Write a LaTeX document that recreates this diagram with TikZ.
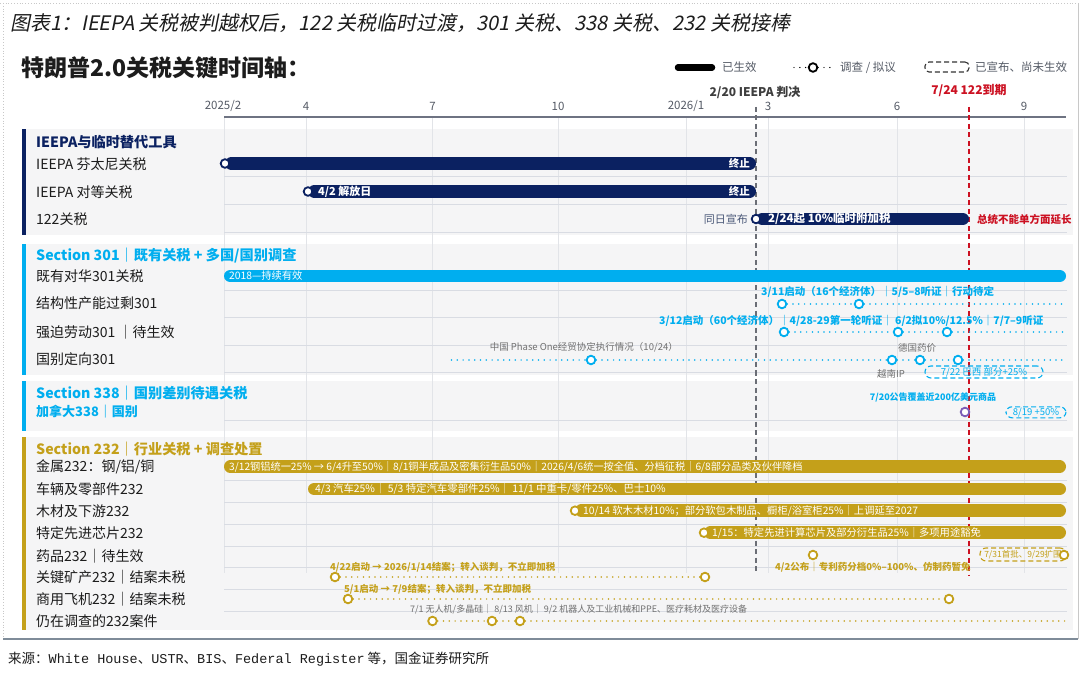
\documentclass[tikz,border=0pt]{standalone}
\usepackage{fontspec}
\setmainfont{Noto Sans CJK SC}
\newfontfamily\titlefont[FakeSlant=0.2]{Noto Sans CJK SC}
\newfontfamily\monofont{Liberation Mono}
\newcommand\fsz[1]{\fontsize{#1}{#1}\selectfont}
\definecolor{navy}{HTML}{0B2161}
\definecolor{cyanc}{HTML}{00AEEF}
\definecolor{goldc}{HTML}{C4A01A}
\definecolor{redc}{HTML}{CC1122}
\definecolor{panel}{HTML}{F5F5F6}
\definecolor{gridc}{HTML}{E2E4E8}
\definecolor{sepc}{HTML}{D9DCE3}
\definecolor{axisc}{HTML}{6E7382}
\definecolor{tickc}{HTML}{555B66}
\definecolor{greyt}{HTML}{707070}
\definecolor{purplec}{HTML}{7B5CB8}
\definecolor{slate}{HTML}{4A5878}
\definecolor{labelc}{HTML}{1C1C1C}
\definecolor{vdash}{HTML}{6B6E76}
\definecolor{framec}{HTML}{C8C8C8}
\definecolor{bottomc}{HTML}{7F8C99}
\begin{document}
\begin{tikzpicture}[x=1pt,y=-1pt,
  lab/.style={anchor=west,inner sep=0pt},
  rowlabel/.style={lab,font=\fsz{14},text=labelc},
  sechead/.style={lab,font=\fsz{14.2}\bfseries},
  bartext/.style={lab,text=white,font=\fsz{10.3}},
  barbold/.style={lab,text=white,font=\fsz{11.5}\bfseries},
  barline/.style={line width=12.6pt,line cap=round},
  mdot/.style={circle,draw=#1,fill=white,line width=1.8pt,minimum size=8.6pt,inner sep=0pt},
  dotline/.style={draw=#1,line width=1.7pt,line cap=round,dash pattern=on 0pt off 5.8pt},
  dashbox/.style={draw=#1,rounded corners=6pt,line width=1.1pt,dash pattern=on 5pt off 3pt,inner sep=0pt},
  ticklab/.style={font=\fsz{11.5},text=tickc,inner sep=0pt},
  note/.style={lab,font=\fsz{9.5}\bfseries},
  greynote/.style={font=\fsz{9.5},text=greyt,inner sep=0pt},
  legtext/.style={lab,font=\fsz{11.5},text=tickc},
]
\useasboundingbox (0,0) rectangle (1080,687);
\fill[white] (0,0) rectangle (1080,687);
% frame
\draw[framec,dotted,line width=0.8pt] (0,3) -- (1078,3);
\draw[framec,dotted,line width=0.8pt] (3,3) -- (3,639);
\draw[framec,line width=0.8pt] (1078,3) -- (1078,639);
\draw[bottomc,line width=1.6pt] (3,639) -- (1078,639);
% titles
\node[lab,font=\titlefont\fsz{20},text=labelc] (title) at (10,23) {图表1：IEEPA 关税被判越权后，122 关税临时过渡，301 关税、338 关税、232 关税接棒};
\node[lab,font=\fsz{23}\bfseries,text=labelc] (main) at (21.5,67.7) {特朗普2.0关税关键时间轴：};
% legend
\coordinate (lgbA) at (678,67.5); \coordinate (lgbB) at (712,67.5);
\draw[black,line width=6.5pt,line cap=round] (lgbA) -- (lgbB);
\node[legtext] (lg1) at (722,67.5) {已生效};
\node[mdot=black] (lgc) at (813,67.5) {};
\coordinate (lgl) at (794,67.5); \coordinate (lgr) at (833,67.5);
\draw[dotline=black,line width=1.4pt] (lgl) -- (lgc);
\draw[dotline=black,line width=1.4pt] (lgc) -- (lgr);
\node[legtext] (lg2) at (840,67.5) {调查 / 拟议};
\node[dashbox=black!80,minimum width=44pt,minimum height=10pt,rounded corners=4pt] (lgbox) at (947,67) {};
\node[legtext] (lg3) at (975,67.5) {已宣布、尚未生效};
% panels
\fill[panel] (26,129) rectangle (1073,235); \fill[navy] (21.5,129) rectangle (26,235);
\fill[panel] (26,244) rectangle (1073,375); \fill[cyanc] (21.5,244) rectangle (26,375);
\fill[panel] (26,381) rectangle (1073,431); \fill[cyanc] (21.5,381) rectangle (26,431);
\fill[panel] (26,437) rectangle (1073,630); \fill[goldc] (21.5,437) rectangle (26,630);
% grid
\foreach \gx in {224,306,432.5,558,686,768,897,1024}
  \draw[gridc,line width=0.8pt] (\gx,117) -- (\gx,573);
% row separators
\foreach \sy in {176.7,204,232,290,317.7,345,372,420,480.7,502.3,524.3,546,567.3,589.3,611}
  \draw[sepc,line width=0.9pt] (224,\sy) -- (1067,\sy);
% axis
\draw[axisc,line width=2pt] (224,117) -- (1066,117);
\node[ticklab] (t1) at (223,106) {2025/2};
\node[ticklab] (t2) at (306,106) {4};
\node[ticklab] (t3) at (432.5,106) {7};
\node[ticklab] (t4) at (558,106) {10};
\node[ticklab] (t5) at (686,106) {2026/1};
\node[ticklab] (t6) at (768,106) {3};
\node[ticklab] (t7) at (897,106) {6};
\node[ticklab] (t8) at (1024,106) {9};
% key dates
\node[font=\fsz{12}\bfseries,text=labelc!85,inner sep=0pt] (ruling) at (755,92) {2/20 IEEPA 判决};
\node[font=\fsz{12}\bfseries,text=redc,inner sep=0pt] (expire) at (969,91) {7/24 122到期};
\coordinate (rulT) at (756,107); \coordinate (rulB) at (756,573);
\coordinate (expT) at (969,107); \coordinate (expB) at (969,575);
\draw[vdash,line width=1.6pt,dash pattern=on 5pt off 3.5pt] (rulT) -- (rulB);
\draw[redc,line width=1.6pt,dash pattern=on 5pt off 3.5pt] (expT) -- (expB);

% ===== Section IEEPA
\node[sechead,text=navy] (h1) at (36,142) {IEEPA与临时替代工具};
\node[rowlabel] (l11) at (36,164) {IEEPA 芬太尼关税};
\node[rowlabel] (l12) at (36,192) {IEEPA 对等关税};
\node[rowlabel] (l13) at (36,219) {122关税};
\coordinate (fenB) at (231.3,163.5); \coordinate (fenE) at (749.7,163.5);
\draw[barline,navy] (fenB) -- (fenE);
\node[mdot=navy] (fenS) at (225,163.5) {};
\node[anchor=east,inner sep=0pt,text=white,font=\fsz{10.5}\bfseries] (end1) at (750,163.5) {终止};
\coordinate (recB) at (314.3,191.5); \coordinate (recE) at (749.7,191.5);
\draw[barline,navy] (recB) -- (recE);
\node[mdot=navy] (recS) at (308,191.5) {};
\node[lab,text=white,font=\fsz{11}\bfseries] (rectx) at (318,191.5) {4/2 解放日};
\node[anchor=east,inner sep=0pt,text=white,font=\fsz{10.5}\bfseries] (end2) at (750,191.5) {终止};
\coordinate (s122B) at (762.3,219); \coordinate (s122E) at (962.7,219);
\draw[barline,navy] (s122B) -- (s122E);
\node[mdot=navy] (s122S) at (756,219) {};
\node[barbold] (s122tx) at (768,219) {2/24起 10\%临时附加税};
\node[anchor=east,inner sep=0pt,text=slate,font=\fsz{11}] (sameday) at (748,219.5) {同日宣布};
\node[lab,text=redc,font=\fsz{10.5}\bfseries] (noext) at (977,219.5) {总统不能单方面延长};

% ===== Section 301
\node[sechead,text=cyanc] (h2) at (36,256) {Section 301｜既有关税 + 多国/国别调查};
\node[rowlabel] (l21) at (36,276) {既有对华301关税};
\node[rowlabel] (l22) at (36,303) {结构性产能过剩301};
\node[rowlabel] (l23) at (36,331.7) {强迫劳动301 ｜待生效};
\node[rowlabel] (l24) at (36,359) {国别定向301};
\coordinate (c18B) at (230.3,276); \coordinate (c18E) at (1059.7,276);
\draw[barline,cyanc] (c18B) -- (c18E);
\node[bartext] (c18tx) at (229,276) {2018—持续有效};
% row 2
\node[note,text=cyanc,font=\fsz{10.5}\bfseries] (oc) at (761,291.7) {3/11启动（16个经济体）｜5/5–8听证｜行动待定};
\node[mdot=cyanc] (c311) at (782,304) {};
\node[mdot=cyanc] (c505) at (859,304) {};
\coordinate (ocE) at (1066,304);
\draw[dotline=cyanc] (c311) -- (c505);
\draw[dotline=cyanc] (c505) -- (ocE);
% row 3
\node[note,text=cyanc,font=\fsz{10.5}\bfseries] (fl) at (659,320.7) {3/12启动（60个经济体）｜4/28-29第一轮听证｜ 6/2拟10\%/12.5\%｜7/7–9听证};
\node[mdot=cyanc] (c312) at (784,332) {};
\node[mdot=cyanc] (c602) at (898,332) {};
\node[mdot=cyanc] (c707) at (947,332) {};
\coordinate (flE) at (1066,332);
\draw[dotline=cyanc] (c312) -- (c602);
\draw[dotline=cyanc] (c602) -- (c707);
\draw[dotline=cyanc] (c707) -- (flE);
% row 4
\node[greynote,anchor=east] (phase) at (678,347) {中国 Phase One经贸协定执行情况（10/24）};
\coordinate (ctB) at (451.5,360); \coordinate (ctE) at (1066,360);
\node[mdot=cyanc] (c1024) at (591,360) {};
\node[mdot=cyanc] (cvn) at (892,360) {};
\node[mdot=cyanc] (cde) at (920,360) {};
\node[mdot=cyanc] (cbr) at (958,360) {};
\draw[dotline=cyanc] (ctB) -- (c1024);
\draw[dotline=cyanc] (c1024) -- (cvn);
\draw[dotline=cyanc] (cvn) -- (cde);
\draw[dotline=cyanc] (cde) -- (cbr);
\draw[dotline=cyanc] (cbr) -- (ctE);
\node[greynote] (de) at (917,348) {德国药价};
\node[greynote] (vn) at (891,373.5) {越南IP};
\node[dashbox=cyanc,minimum width=118pt,minimum height=12pt,text=cyanc,font=\fsz{9.5}] (brbox) at (984,372) {7/22 巴西 部分+25\%};

% ===== Section 338
\node[sechead,text=cyanc] (h3) at (36,393) {Section 338｜国别差别待遇关税};
\node[lab,text=cyanc,font=\fsz{13}\bfseries] (l31) at (36,412) {加拿大338｜国别};
\node[text=cyanc,font=\fsz{9}\bfseries,inner sep=0pt] (ca720) at (933,397) {7/20公告覆盖近200亿美元商品};
\node[mdot=purplec] (cca) at (965,412) {};
\node[dashbox=cyanc,minimum width=60pt,minimum height=11pt,text=cyanc,font=\fsz{9.5}] (cabox) at (1036,412.3) {8/19 +50\%};

% ===== Section 232
\node[sechead,text=goldc] (h4) at (36,449) {Section 232｜行业关税 + 调查处置};
\node[rowlabel] (l41) at (36,467) {金属232：钢/铝/铜};
\node[rowlabel] (l42) at (36,489) {车辆及零部件232};
\node[rowlabel] (l43) at (36,511) {木材及下游232};
\node[rowlabel] (l44) at (36,533) {特定先进芯片232};
\node[rowlabel] (l45) at (36,556) {药品232｜待生效};
\node[rowlabel] (l46) at (36,577.5) {关键矿产232｜结案未税};
\node[rowlabel] (l47) at (36,599.5) {商用飞机232｜结案未税};
\node[rowlabel] (l48) at (36,621) {仍在调查的232案件};
% metals
\coordinate (mtB) at (230.3,466.7); \coordinate (mtE) at (1059.7,466.7);
\draw[barline,goldc] (mtB) -- (mtE);
\node[bartext,font=\fsz{10.2}] (mttx) at (229,466.7) {3/12钢铝统一25\% → 6/4升至50\%｜8/1铜半成品及密集衍生品50\%｜2026/4/6统一按全值、分档征税｜6/8部分品类及伙伴降档};
% vehicles
\coordinate (vhB) at (314.3,489); \coordinate (vhE) at (1059.7,489);
\draw[barline,goldc] (vhB) -- (vhE);
\node[bartext,font=\fsz{10.4}] (vhtx) at (315,489) {4/3 汽车25\%｜ 5/3 特定汽车零部件25\%｜ 11/1 中重卡/零件25\%、巴士10\%};
% wood
\coordinate (wdB) at (581.3,510.7); \coordinate (wdE) at (1059.7,510.7);
\draw[barline,goldc] (wdB) -- (wdE);
\node[mdot=goldc] (wdS) at (575,510.7) {};
\node[bartext] (wdtx) at (583,510.7) {10/14 软木木材10\%；部分软包木制品、橱柜/浴室柜25\%｜上调延至2027};
% chips
\coordinate (chB) at (710.3,532.7); \coordinate (chE) at (1059.7,532.7);
\draw[barline,goldc] (chB) -- (chE);
\node[mdot=goldc] (chS) at (704,532.7) {};
\node[bartext] (chtx) at (712,532.7) {1/15：特定先进计算芯片及部分衍生品25\%｜多项用途豁免};
% pharma
\node[mdot=goldc] (ph1) at (813,555) {};
\node[note,text=goldc] (phtx) at (775,566.7) {4/2公布｜专利药分档0\%–100\%、仿制药暂免};
\node[dashbox=goldc,minimum width=86pt,minimum height=13pt,text=goldc,font=\fsz{8.5}] (phbox) at (1023,554.5) {7/31首批、9/29扩围};
\node[mdot=goldc] (ph2) at (1064,555) {};
% minerals
\node[note,text=goldc] (mntx) at (330,567.3) {4/22启动 → 2026/1/14结案；转入谈判，不立即加税};
\node[mdot=goldc] (mn1) at (335,577) {};
\node[mdot=goldc] (mn2) at (705,577) {};
\draw[dotline=goldc] (mn1) -- (mn2);
% aircraft
\node[note,text=goldc] (aftx) at (344,589) {5/1启动 → 7/9结案；转入谈判，不立即加税};
\node[mdot=goldc] (af1) at (348,599) {};
\node[mdot=goldc] (af2) at (949,599) {};
\draw[dotline=goldc] (af1) -- (af2);
% investigations
\node[greynote,anchor=west,font=\fsz{9}] (ivtx) at (410,609) {7/1 无人机/多晶硅｜ 8/13 风机｜ 9/2 机器人及工业机械和PPE、医疗耗材及医疗设备};
\node[mdot=goldc] (iv1) at (432.5,621) {};
\node[mdot=goldc] (iv2) at (492,621) {};
\node[mdot=goldc] (iv3) at (520,621) {};
\coordinate (ivE) at (1066,621);
\draw[dotline=goldc] (iv1) -- (iv2);
\draw[dotline=goldc] (iv2) -- (iv3);
\draw[dotline=goldc] (iv3) -- (ivE);
% footer
\node[lab,font=\fsz{13.5},text=labelc] (src) at (8,659) {来源：{\monofont White House}、{\monofont USTR}、{\monofont BIS}、{\monofont Federal Register} 等，国金证券研究所};
\end{tikzpicture}
\end{document}
